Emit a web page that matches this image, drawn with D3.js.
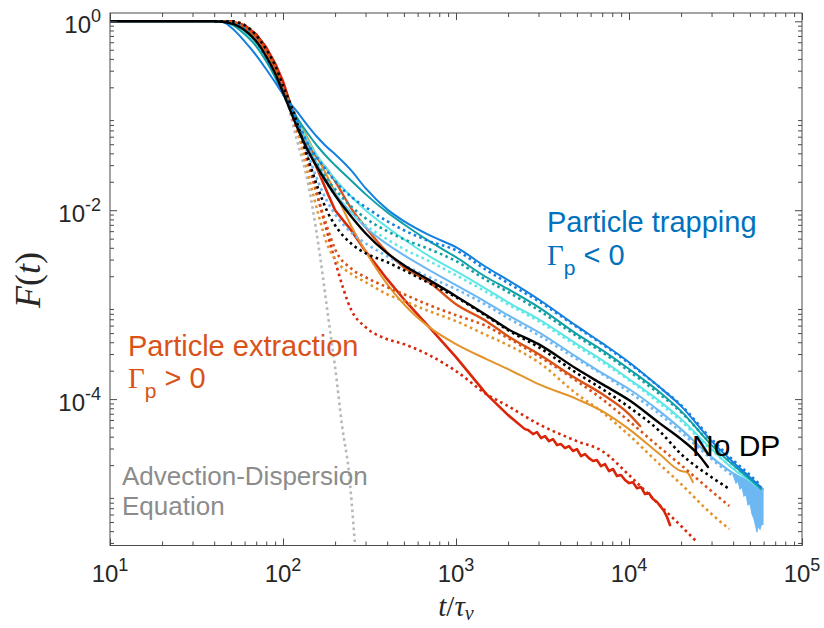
<!DOCTYPE html>
<html>
<head>
<meta charset="utf-8">
<script src="https://cdn.jsdelivr.net/npm/d3@7"></script>
<style>
  body { margin: 0; background: #fff; }
  svg { display: block; font-family: "Liberation Sans", Arial, sans-serif; }
</style>
</head>
<body>
<svg id="chart" width="824" height="628"></svg>
<script>
// survival curves F(t) as [t/tau_v, F]
const blueSolid = [[10,1],[40,1],[45,0.98],[50,0.864],[60,0.614],[70,0.437],[80,0.311],[90,0.226],[100,0.169],[120,0.112],[140,0.0774],[160,0.0578],[180,0.0464],[200,0.0391],[250,0.0259],[300,0.0171],[400,0.0102],[500,0.00765],[700,0.00544],[1000,0.00406],[1500,0.00249],[2000,0.00182],[3000,0.00114],[5000,0.000592],[7000,0.000391],[10000,0.000246],[15000,0.000134],[20000,8.43e-5],[30000,3.59e-5],[40000,2.15e-5],[50000,1.49e-5],[58000,1.17e-5]];
const blueDotted = [[40,1],[50,0.976],[60,0.823],[70,0.614],[80,0.416],[90,0.275],[100,0.177],[120,0.0918],[140,0.0499],[160,0.0346],[180,0.0259],[200,0.0203],[250,0.0137],[300,0.0108],[400,0.00765],[500,0.00614],[700,0.0047],[1000,0.00377],[1500,0.00232],[2000,0.00169],[3000,0.00109],[5000,0.000578],[7000,0.000382],[10000,0.00024],[15000,0.000134],[20000,8.64e-5],[30000,3.77e-5],[40000,2.26e-5],[50000,1.57e-5],[56000,1.29e-5]];
const tealSolid = [[10,1],[40,1],[50,0.93],[60,0.729],[70,0.544],[80,0.377],[90,0.256],[100,0.169],[120,0.0964],[140,0.0637],[160,0.0464],[180,0.0364],[200,0.0299],[250,0.0203],[300,0.0148],[400,0.00952],[500,0.00711],[700,0.0047],[1000,0.00318],[1500,0.00195],[2000,0.00146],[3000,0.000941],[5000,0.000487],[7000,0.00033],[10000,0.000208],[15000,0.000119],[20000,7.46e-5],[30000,3.26e-5],[40000,2.0e-5],[50000,1.42e-5],[58000,1.12e-5]];
const tealDotted = [[40,1],[50,0.976],[60,0.823],[70,0.614],[80,0.416],[90,0.275],[100,0.173],[120,0.0875],[140,0.0464],[160,0.0299],[180,0.0213],[200,0.0167],[250,0.0108],[300,0.00823],[400,0.006],[500,0.00493],[700,0.00387],[1000,0.00289],[1500,0.00182],[2000,0.00136],[3000,0.000875],[5000,0.000464],[7000,0.000314],[10000,0.000198],[15000,0.000113],[20000,7.29e-5],[30000,3.34e-5],[40000,2.1e-5],[50000,1.49e-5]];
const cyanSolid = [[10,1],[40,1],[50,0.952],[60,0.765],[70,0.571],[80,0.396],[90,0.268],[100,0.173],[120,0.0918],[140,0.0537],[160,0.0364],[180,0.0272],[200,0.0213],[250,0.0137],[300,0.01],[400,0.00661],[500,0.00493],[700,0.00326],[1000,0.00226],[1500,0.00146],[2000,0.00106],[3000,0.000702],[5000,0.000382],[7000,0.000259],[10000,0.000163],[15000,9.52e-5],[20000,6.14e-5],[30000,2.96e-5],[40000,1.82e-5],[50000,1.36e-5],[56000,1.17e-5]];
const cyanDotted = [[40,1],[50,0.976],[60,0.823],[70,0.614],[80,0.416],[90,0.275],[100,0.173],[120,0.0853],[140,0.0442],[160,0.0272],[180,0.0188],[200,0.0144],[250,0.0093],[300,0.00694],[400,0.00493],[500,0.00387],[700,0.00289],[1000,0.00205],[1500,0.00136],[2000,0.00101],[3000,0.000669],[5000,0.000364],[7000,0.000246],[10000,0.000159],[15000,9.07e-5],[20000,5.85e-5],[30000,2.89e-5],[40000,1.86e-5],[48000,1.49e-5]];
const lightSolid = [[10,1],[40,1],[50,0.952],[60,0.784],[70,0.585],[80,0.406],[90,0.275],[100,0.177],[120,0.0875],[140,0.0464],[160,0.0292],[180,0.0203],[200,0.0151],[250,0.0093],[300,0.00661],[400,0.00437],[500,0.00334],[700,0.00232],[1000,0.00161],[1500,0.00106],[2000,0.000774],[3000,0.000512],[5000,0.000278],[7000,0.000188],[10000,0.000128],[15000,7.46e-5],[20000,4.81e-5],[30000,2.43e-5],[39900,1.65e-5],[50050,1.32e-5],[59500,1.12e-5]];
// noisy end of the light blue run, drawn as a band [t, low, high]
const lightBand = [[39900,1.6e-5,1.65e-5],[41550,1.29e-5,1.57e-5],[42670,1.36e-5,1.53e-5],[43810,1.12e-5,1.49e-5],[45000,1.18e-5,1.46e-5],[46210,9.4e-6,1.42e-5],[47460,9.9e-6,1.39e-5],[48740,7.6e-6,1.36e-5],[50050,7.9e-6,1.32e-5],[51400,6.1e-6,1.29e-5],[52790,5.4e-6,1.26e-5],[54210,4.4e-6,1.23e-5],[54940,3.91e-6,1.2e-5],[55680,4.6e-6,1.2e-5],[57170,4.2e-6,1.17e-5],[58720,4.9e-6,1.14e-5],[59500,4.64e-6,1.12e-5]];
const lightDotted = [[40,1],[50,0.976],[60,0.823],[70,0.614],[80,0.416],[90,0.275],[100,0.173],[120,0.0833],[140,0.0382],[160,0.0198],[180,0.0124],[200,0.00907],[250,0.00571],[300,0.00447],[400,0.00326],[500,0.00262],[700,0.00195],[1000,0.00146],[1500,0.000988],[2000,0.00072],[3000,0.000476],[5000,0.000265],[7000,0.000184],[10000,0.000119],[15000,6.94e-5],[20000,4.47e-5],[30000,2.32e-5],[40000,1.53e-5]];
const blackSolid = [[10,1],[40,1],[50,0.952],[60,0.803],[70,0.614],[80,0.426],[90,0.282],[100,0.177],[120,0.0774],[140,0.0421],[160,0.0272],[180,0.0193],[200,0.0144],[250,0.00843],[300,0.00571],[400,0.00351],[500,0.00262],[700,0.00182],[1000,0.00123],[1500,0.000774],[2000,0.00055],[3000,0.000382],[5000,0.000208],[7000,0.000144],[10000,9.76e-5],[15000,5.57e-5],[20000,3.77e-5],[25000,2.62e-5],[28600,1.91e-5]];
const blackDotted = [[40,1],[50,1],[60,0.907],[70,0.711],[80,0.505],[90,0.342],[100,0.21],[120,0.0875],[140,0.0346],[160,0.0167],[180,0.00976],[200,0.00694],[250,0.00437],[300,0.00351],[400,0.00282],[500,0.00232],[700,0.00169],[1000,0.0012],[1500,0.000755],[2000,0.000537],[3000,0.000355],[5000,0.000188],[7000,0.000128],[10000,8.23e-5],[15000,4.59e-5],[20000,2.62e-5],[30000,1.49e-5],[38000,1.12e-5]];
const orangeRedSolid = [[10,1],[40,1],[50,0.976],[60,0.864],[70,0.677],[80,0.481],[90,0.326],[100,0.191],[120,0.0875],[140,0.0499],[160,0.0346],[180,0.0272],[200,0.0203],[250,0.0102],[300,0.00661],[400,0.00359],[500,0.00249],[700,0.00173],[1000,0.00101],[1500,0.000669],[2000,0.000464],[3000,0.0003],[5000,0.000163],[7000,0.000113],[10000,6.94e-5],[11600,5.18e-5]];
const orangeRedDotted = [[40,1],[50,1],[60,0.907],[70,0.711],[80,0.505],[90,0.334],[100,0.205],[120,0.0918],[140,0.0346],[160,0.0131],[180,0.00661],[200,0.00387],[250,0.00238],[300,0.00195],[400,0.00153],[500,0.00129],[700,0.000988],[1000,0.000774],[1500,0.000592],[2000,0.000442],[3000,0.000285],[5000,0.000155],[7000,0.0001],[10000,5.85e-5],[15000,3.1e-5],[20000,2.0e-5],[30000,1.06e-5],[38000,7.38e-6]];
const orangeSolid = [[10,1],[40,1],[50,0.976],[60,0.843],[70,0.661],[80,0.47],[90,0.311],[100,0.195],[120,0.0964],[140,0.0564],[160,0.0346],[180,0.0229],[200,0.0155],[250,0.00661],[300,0.00368],[400,0.00165],[500,0.00101],[700,0.000578],[1000,0.000382],[1500,0.000265],[2000,0.000208],[3000,0.000144],[5000,0.0001],[7000,7.46e-5],[10000,4.81e-5],[15000,2.62e-5],[20000,1.73e-5],[21500,1.69e-5],[23400,1.32e-5]];
const orangeDotted = [[40,1],[50,1],[60,0.907],[70,0.711],[80,0.505],[90,0.334],[100,0.2],[120,0.0755],[140,0.024],[160,0.00907],[180,0.00437],[200,0.00303],[250,0.0021],[300,0.00173],[400,0.00129],[500,0.00109],[700,0.000853],[1000,0.000669],[1500,0.000476],[2000,0.000373],[3000,0.000246],[5000,0.000113],[7000,7.29e-5],[10000,4.16e-5],[15000,2.05e-5],[20000,1.26e-5],[30000,6.07e-6],[38000,4.21e-6]];
const redSolid = [[10,1],[40,1],[50,1],[60,0.907],[70,0.729],[80,0.531],[90,0.359],[100,0.232],[120,0.0813],[140,0.0442],[160,0.0259],[180,0.0155],[200,0.01],[250,0.006],[300,0.00368],[400,0.00186],[500,0.00114],[700,0.000578],[1000,0.000278],[1500,0.000113],[2000,6.77e-5],[2500,4.81e-5]];
// noisy end of the red run
const redTail = [[2608,4.7e-5],[2787,4.26e-5],[2939,4.47e-5],[3100,3.87e-5],[3269,4.06e-5],[3448,3.59e-5],[3636,3.77e-5],[3835,3.26e-5],[4045,3.34e-5],[4266,3.03e-5],[4499,3.18e-5],[4745,2.82e-5],[5004,2.96e-5],[5278,2.49e-5],[5567,2.62e-5],[5871,2.37e-5],[6192,2.21e-5],[6531,2.26e-5],[6889,1.95e-5],[7265,2.05e-5],[7662,1.73e-5],[8081,1.82e-5],[8522,1.53e-5],[8990,1.57e-5],[9482,1.39e-5],[10000,1.29e-5],[10546,1.32e-5],[11122,1.14e-5],[11732,1.17e-5],[12374,9.88e-6],[13050,1.01e-5],[13763,8.75e-6],[14514,8.13e-6],[15311,7.2e-6],[15935,6.53e-6],[16586,5.64e-6],[17258,4.64e-6]];
const redDotted = [[40,1],[50,1],[60,0.907],[70,0.711],[80,0.505],[90,0.334],[100,0.2],[120,0.072],[140,0.0307],[160,0.0131],[180,0.00585],[200,0.00289],[250,0.000853],[300,0.000578],[400,0.000431],[500,0.000382],[700,0.000292],[1000,0.000198],[1500,0.000113],[2000,8.43e-5],[3000,5.44e-5],[5000,3.59e-5],[7000,2.82e-5],[10000,1.57e-5],[15000,7.55e-6],[20000,4.53e-6],[24700,3.07e-6]];
const adeDotted = [[40,1],[50,1],[60,0.907],[70,0.711],[80,0.505],[90,0.334],[100,0.2],[120,0.0564],[140,0.0188],[160,0.00437],[180,0.000896],[190,0.000431],[200,0.000218],[220,5.05e-5],[240,1.73e-5],[260,3.07e-6]];

const xDecades = [1e1, 1e2, 1e3, 1e4, 1e5],
  yDecades = [1e-4, 1e-2, 1e0],
  xTickExp = ["1", "2", "3", "4", "5"],
  yTickExp = ["-4", "-2", "0"];

const W = 824, H = 628,
  plotL = 110, plotR = 802, plotT = 13, plotB = 545.5,
  majorLen = 7, minorLen = 4,
  axisColor = "#4a4a4a",
  textColor = "#262626";

var x = d3.scaleLog().domain([1e1, 1e5]).range([plotL, plotR]);
var y = d3.scaleLog().domain([Math.pow(10, -5.55), Math.pow(10, 0.088)]).range([plotB, plotT]);

// drawing order: first is at the bottom
var series = [
  { pts: adeDotted, color: "#b8b8b8", dotted: true, w: 2.6 },
  { pts: redSolid.concat(redTail), color: "#d9260b", dotted: false, w: 2.6, curve: d3.curveLinear },
  { pts: redDotted, color: "#d9260b", dotted: true, w: 2.6 },
  { pts: orangeSolid, color: "#e3932a", dotted: false, w: 2 },
  { pts: orangeDotted, color: "#e3932a", dotted: true, w: 2.6 },
  { pts: orangeRedSolid, color: "#d95319", dotted: false, w: 2.4 },
  { pts: orangeRedDotted, color: "#d95319", dotted: true, w: 2.6 },
  { pts: lightSolid, color: "#6db8f2", dotted: false, w: 2 },
  { pts: lightDotted, color: "#6db8f2", dotted: true, w: 2.6 },
  { pts: cyanSolid, color: "#5fe6e6", dotted: false, w: 2 },
  { pts: cyanDotted, color: "#5fe6e6", dotted: true, w: 2.6 },
  { pts: tealSolid, color: "#10a0a6", dotted: false, w: 2 },
  { pts: tealDotted, color: "#10a0a6", dotted: true, w: 2.6 },
  { pts: blueSolid, color: "#1380e0", dotted: false, w: 2 },
  { pts: blueDotted, color: "#1380e0", dotted: true, w: 2.6 },
  { pts: blackSolid, color: "#000000", dotted: false, w: 2.4 },
  { pts: blackDotted, color: "#000000", dotted: true, w: 2.6 }
];

const svg = d3.select("#chart");

svg.append("rect").attr("width", W).attr("height", H).attr("fill", "#fff");

svg.append("clipPath").attr("id", "plotClip")
  .append("rect")
  .attr("x", plotL).attr("y", plotT)
  .attr("width", plotR - plotL).attr("height", plotB - plotT);

var curves = svg.append("g").attr("clip-path", "url(#plotClip)");

// light blue noisy band sits under the lines
curves.append("path")
  .datum(lightBand)
  .attr("d", d3.area()
    .x(d => x(d[0]))
    .y0(d => y(d[1]))
    .y1(d => y(d[2])))
  .attr("fill", "#6db8f2")
  .attr("stroke", "#6db8f2")
  .attr("stroke-width", 1.2);

curves.selectAll(".curve")
  .data(series)
  .enter()
  .append("path")
  .attr("class", "curve")
  .attr("d", d => d3.line()
    .x(p => x(p[0]))
    .y(p => y(p[1]))
    .curve(d.curve || d3.curveMonotoneX)(d.pts))
  .attr("fill", "none")
  .attr("stroke", d => d.color)
  .attr("stroke-width", d => d.w)
  .attr("stroke-dasharray", d => d.dotted ? "2.6 3.4" : null)
  .attr("stroke-linejoin", "round")
  .attr("stroke-linecap", d => d.dotted ? "butt" : "round");

// AXES: ticks point inward on all four sides
function minorTicks(scale) {
  return scale.ticks().filter(v => {
    var e = Math.log10(v);
    return Math.abs(e - Math.round(e)) > 1e-6;
  });
}

var axes = svg.append("g").attr("class", "axes");

function addAxis(gen, scale, values, len, tx, ty) {
  axes.append("g")
    .attr("transform", `translate(${tx},${ty})`)
    .call(gen(scale).tickValues(values).tickSizeInner(-len).tickSizeOuter(0).tickFormat(""))
    .call(g => g.select(".domain").remove())
    .call(g => g.selectAll("line").attr("stroke", axisColor).attr("stroke-width", 1));
}

[[xDecades, majorLen], [minorTicks(x), minorLen]].forEach(function(p) {
  addAxis(d3.axisBottom, x, p[0], p[1], 0, plotB);
  addAxis(d3.axisTop, x, p[0], p[1], 0, plotT);
});
[[yDecades, majorLen], [minorTicks(y), minorLen]].forEach(function(p) {
  addAxis(d3.axisLeft, y, p[0], p[1], plotL, 0);
  addAxis(d3.axisRight, y, p[0], p[1], plotR, 0);
});

axes.append("rect")
  .attr("x", plotL).attr("y", plotT)
  .attr("width", plotR - plotL).attr("height", plotB - plotT)
  .attr("fill", "none")
  .attr("stroke", axisColor)
  .attr("stroke-width", 1);

// tick labels as 10^n
var xLabels = svg.append("g").attr("fill", textColor).attr("font-size", 24);
xDecades.forEach(function(v, i) {
  var t = xLabels.append("text")
    .attr("x", x(v)).attr("y", 582)
    .attr("text-anchor", "middle")
    .text("10");
  t.append("tspan").attr("dy", -11).attr("font-size", 18).text(xTickExp[i]);
});

var yLabels = svg.append("g").attr("fill", textColor).attr("font-size", 24);
yDecades.forEach(function(v, i) {
  var t = yLabels.append("text")
    .attr("x", 101).attr("y", y(v) + 12)
    .attr("text-anchor", "end")
    .text("10");
  t.append("tspan").attr("dy", -11).attr("font-size", 18).text(yTickExp[i]);
});

// axis titles
var serif = "'Liberation Serif', 'DejaVu Serif', serif";

var yTitle = svg.append("text")
  .attr("transform", "translate(40,280) rotate(-90)")
  .attr("text-anchor", "middle")
  .attr("font-family", serif)
  .attr("font-size", 36)
  .attr("fill", textColor);
yTitle.append("tspan").attr("font-style", "italic").text("F");
yTitle.append("tspan").text("(");
yTitle.append("tspan").attr("font-style", "italic").text("t");
yTitle.append("tspan").text(")");

var xTitle = svg.append("text")
  .attr("x", (plotL + plotR) / 2).attr("y", 616)
  .attr("text-anchor", "middle")
  .attr("font-family", serif)
  .attr("font-size", 29)
  .attr("fill", textColor);
xTitle.append("tspan").attr("font-style", "italic").text("t");
xTitle.append("tspan").text("/");
xTitle.append("tspan").attr("font-style", "italic").text("τ");
xTitle.append("tspan").attr("font-style", "italic").attr("font-size", 20).attr("dy", 4).text("v");

// annotations
function gammaLabel(px, py, color, rel) {
  var t = svg.append("text")
    .attr("x", px).attr("y", py)
    .attr("fill", color)
    .attr("font-size", 29);
  t.append("tspan").attr("font-family", serif).text("Γ");
  t.append("tspan").attr("font-size", 21).attr("dy", 10).text("p");
  t.append("tspan").attr("dy", -10).text(" " + rel + " 0");
}

svg.append("text")
  .attr("x", 547).attr("y", 232)
  .attr("fill", "#0072bd")
  .attr("font-size", 29)
  .text("Particle trapping");
gammaLabel(547, 265, "#0072bd", "<");

svg.append("text")
  .attr("x", 128).attr("y", 356)
  .attr("fill", "#d95319")
  .attr("font-size", 29)
  .text("Particle extraction");
gammaLabel(128, 388, "#d95319", ">");

svg.append("text")
  .attr("x", 122).attr("y", 485)
  .attr("fill", "#8c8c8c")
  .attr("font-size", 26)
  .text("Advection-Dispersion");
svg.append("text")
  .attr("x", 122).attr("y", 515)
  .attr("fill", "#8c8c8c")
  .attr("font-size", 26)
  .text("Equation");

svg.append("text")
  .attr("x", 692).attr("y", 456)
  .attr("fill", "#000")
  .attr("font-size", 30)
  .text("No DP");
</script>
</body>
</html>
